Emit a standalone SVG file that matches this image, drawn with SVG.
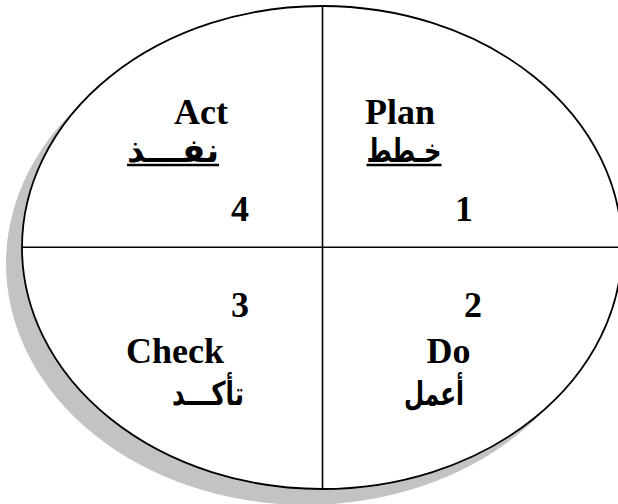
<svg xmlns="http://www.w3.org/2000/svg" width="618" height="504" viewBox="0 0 618 504">
  <style>
    .lat { font-family: "Liberation Serif", "Times New Roman", serif; font-weight: bold; font-size: 36px; fill: #000; }
    .ar { font-family: "DejaVu Sans", sans-serif; font-weight: bold; font-size: 33px; fill: #000; }
    .ul { stroke: #000; stroke-width: 2.6; }
    .edge { stroke: #000; stroke-width: 1.6; fill: none; }
  </style>
  <rect width="618" height="504" fill="#fff"/>
  <g id="circle">
    <ellipse cx="306" cy="263.5" rx="300" ry="241.5" fill="#c3c3c3"/>
    <ellipse cx="322" cy="247.5" rx="300" ry="241.5" fill="#fff" stroke="#000" stroke-width="1.8"/>
  </g>
  <g id="dividers">
    <line class="edge" x1="322.5" y1="6" x2="322.5" y2="489"/>
    <line class="edge" x1="22" y1="247.3" x2="618" y2="247.3"/>
  </g>
  <g id="plan">
    <text class="lat" x="365" y="124">Plan</text>
    <text class="ar" x="404" y="162" text-anchor="middle" textLength="75" lengthAdjust="spacingAndGlyphs">خـطط</text>
    <line class="ul" x1="366.5" y1="165" x2="441.5" y2="165"/>
    <text class="lat" x="455" y="220.5">1</text>
  </g>
  <g id="do">
    <text class="lat" x="464" y="316.5">2</text>
    <text class="lat" x="426.5" y="363">Do</text>
    <text class="ar" x="434" y="405" text-anchor="middle" textLength="60" lengthAdjust="spacingAndGlyphs">أعمل</text>
  </g>
  <g id="check">
    <text class="lat" x="231" y="316.5">3</text>
    <text class="lat" x="126" y="363">Check</text>
    <text class="ar" x="208" y="405" text-anchor="middle" textLength="72" lengthAdjust="spacingAndGlyphs">تأكـــد</text>
  </g>
  <g id="act">
    <text class="lat" x="174" y="124">Act</text>
    <text class="ar" x="173" y="162" text-anchor="middle" textLength="92" lengthAdjust="spacingAndGlyphs">نفـــذ</text>
    <line class="ul" x1="127" y1="165" x2="219" y2="165"/>
    <text class="lat" x="231" y="220.5">4</text>
  </g>
</svg>
